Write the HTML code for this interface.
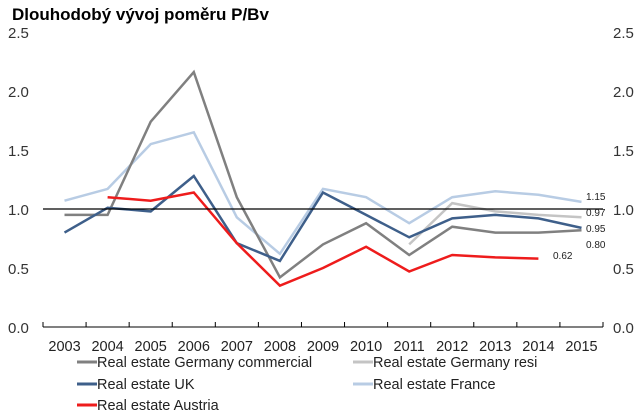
<!DOCTYPE html>
<html><head><meta charset="utf-8"><style>
body{margin:0;background:#fff;}
svg{display:block;font-family:"Liberation Sans",Arial,sans-serif;}
</style></head><body>
<svg id="chart" width="640" height="415">
<text x="12" y="20" font-size="17" font-weight="bold" fill="#000">Dlouhodobý vývoj poměru P/Bv</text>
<g id="axes"></g>
<g id="series"></g>
<g id="legend"></g>
</svg>
<script>
const categories=["2003","2004","2005","2006","2007","2008","2009","2010","2011","2012","2013","2014","2015"];
const yTicks=[0,0.5,1.0,1.5,2.0,2.5];
const yTickLabels=["0.0","0.5","1.0","1.5","2.0","2.5"];
const deCommercial=[0.95,0.95,1.74,2.16,1.10,0.42,0.70,0.88,0.61,0.85,0.80,0.80,0.82];
const deResi=[null,null,null,null,null,null,null,null,0.70,1.05,0.98,0.95,0.93];
const uk=[0.80,1.01,0.98,1.28,0.71,0.56,1.14,0.95,0.76,0.92,0.95,0.92,0.84];
const france=[1.07,1.17,1.55,1.65,0.93,0.62,1.17,1.10,0.88,1.10,1.15,1.12,1.06];
const austria=[null,1.10,1.07,1.14,0.71,0.35,0.50,0.68,0.47,0.61,0.59,0.58,null];
const endLabels=["1.15","0.97","0.95","0.80"];
const austriaLabel="0.62";
const NS="http://www.w3.org/2000/svg";
const x0=43,x1=603,yBase=327,yTop=32,vMax=2.5;
const bw=(x1-x0)/categories.length;
function xs(i){return x0+bw*(i+0.5);}
function ys(v){return yBase-(yBase-yTop)*v/vMax;}
function mk(tag,attrs,parent){const e=document.createElementNS(NS,tag);for(const k in attrs)e.setAttribute(k,attrs[k]);parent.appendChild(e);return e;}
const axes=document.getElementById('axes');
yTicks.forEach((t,i)=>{
  let a=mk('text',{x:8,y:ys(t)+6,'font-size':15,fill:'#333'},axes);a.textContent=yTickLabels[i];
  
  
  let b=mk('text',{x:613,y:ys(t)+6,'font-size':15,fill:'#333'},axes);b.textContent=yTickLabels[i];
  
  
});
let ax=mk('line',{x1:x0,y1:yBase,x2:x1,y2:yBase,stroke:'#000','stroke-width':1},axes);


for(let i=0;i<=categories.length;i++){
  let t=mk('line',{x1:x0+bw*i,y1:yBase-5,x2:x0+bw*i,y2:yBase,stroke:'#000'},axes);
  
  
}
categories.forEach((c,i)=>{
  let t=mk('text',{x:xs(i),y:yBase+24,'font-size':14.5,'text-anchor':'middle',fill:'#222'},axes);t.textContent=c;
  
  
});
const sg=document.getElementById('series');
function line(data,color,name,w){
  let d='',pen=false;
  data.forEach((v,i)=>{if(v==null){pen=false;return;}d+=(pen?'L':'M')+xs(i).toFixed(1)+','+ys(v).toFixed(1);pen=true;});
  let p=mk('path',{d:d,fill:'none',stroke:color,'stroke-width':w},sg);
  
  
}
line(deResi,'#c4c4c4','series-germany-resi',2.5);
line(france,'#b8cce4','series-france',2.5);
line(deCommercial,'#808080','series-germany-commercial',2.5);
line(uk,'#3e5f8a','series-uk',2.5);
line(austria,'#ee1c1c','series-austria',2.5);
let ref=mk('line',{x1:x0,y1:ys(1),x2:x1,y2:ys(1),stroke:'#000','stroke-width':1.2},sg);


endLabels.forEach((l,i)=>{
  let t=mk('text',{x:586,y:[200,216,232,248][i],'font-size':10,fill:'#222'},sg);t.textContent=l;
  
  
});
let al=mk('text',{x:553,y:259,'font-size':10,fill:'#222'},sg);al.textContent=austriaLabel;


const lg=document.getElementById('legend');
const items=[["Real estate Germany commercial","#808080",77,367],["Real estate Germany resi","#c4c4c4",353,367],["Real estate UK","#3e5f8a",77,389],["Real estate France","#b8cce4",353,389],["Real estate Austria","#ee1c1c",77,410]];
items.forEach(it=>{
  let g=mk('g',{},lg);
  
  
  mk('line',{x1:it[2],y1:it[3]-5,x2:it[2]+20,y2:it[3]-5,stroke:it[1],'stroke-width':3},g);
  let t=mk('text',{x:it[2]+20,y:it[3],'font-size':14.5,fill:'#222'},g);t.textContent=it[0];
});
</script>
</body></html>
